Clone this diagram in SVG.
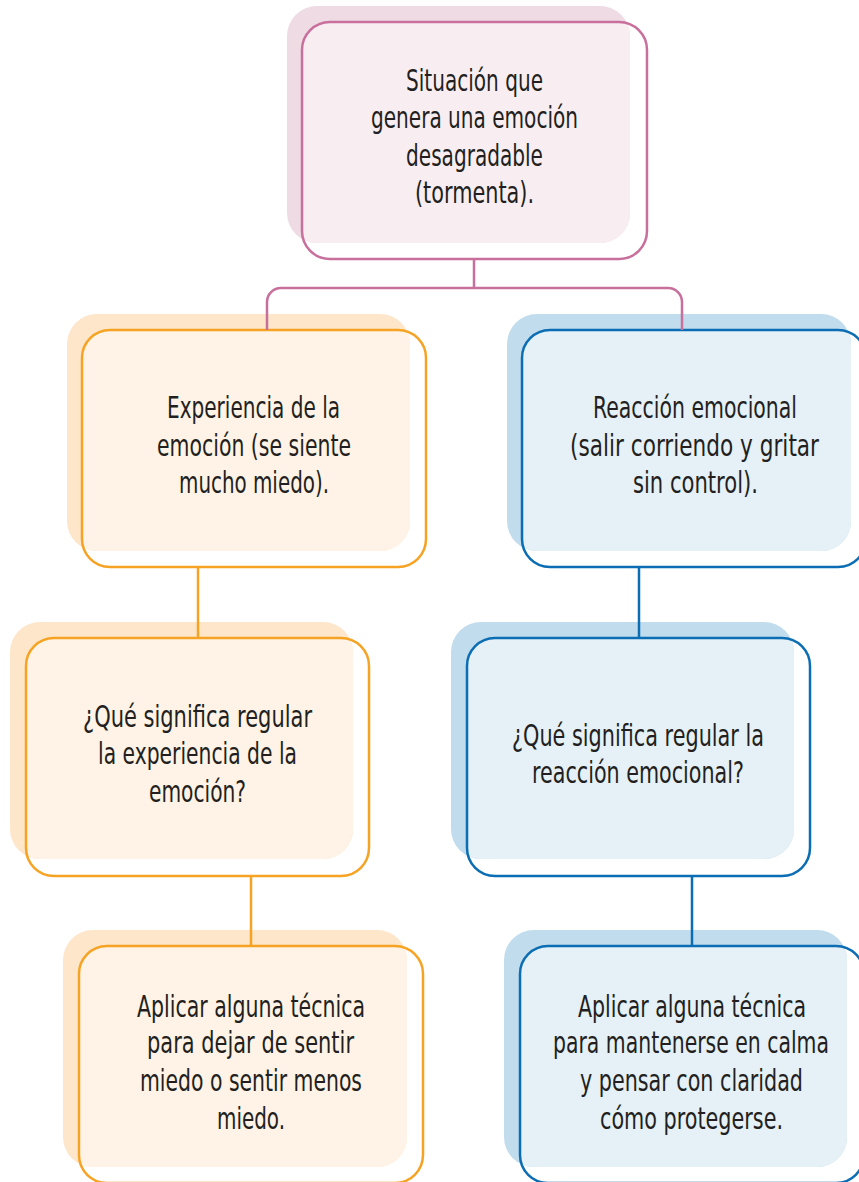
<svg xmlns="http://www.w3.org/2000/svg" width="859" height="1182" viewBox="0 0 859 1182">
<style>
.t{font-family:"DejaVu Sans Condensed","DejaVu Sans","Liberation Sans",sans-serif;font-stretch:condensed;font-size:30px;fill:#231f20;text-anchor:middle}
.ol{fill:none;stroke-width:2.5}
.pk-b{fill:#efdbe4}.pk-l{fill:#f8eef2}.pk-s{stroke:#c86f9c}
.or-b{fill:#fde6c9}.or-l{fill:#fef3e6}.or-s{stroke:#f6a324}
.bl-b{fill:#c1dcec}.bl-l{fill:#e5f0f7}.bl-s{stroke:#0b6db3}
.cn{fill:none;stroke-width:2.5}
</style>
<defs>
<clipPath id="k0"><rect x="302" y="22" width="345" height="237" rx="28"/></clipPath>
<clipPath id="k1"><rect x="82" y="330" width="344" height="237" rx="28"/></clipPath>
<clipPath id="k2"><rect x="522" y="330" width="344" height="237" rx="28"/></clipPath>
<clipPath id="k3"><rect x="26" y="638" width="343" height="238" rx="28"/></clipPath>
<clipPath id="k4"><rect x="467" y="638" width="343" height="238" rx="28"/></clipPath>
<clipPath id="k5"><rect x="79" y="946" width="344" height="237" rx="28"/></clipPath>
<clipPath id="k6"><rect x="520" y="946" width="344" height="237" rx="28"/></clipPath>
</defs>
<rect width="859" height="1182" fill="#ffffff"/>

<g id="n-situacion">
<rect class="pk-b" x="287" y="6" width="343" height="237" rx="30"/>
<rect class="pk-l" x="287" y="6" width="343" height="237" rx="30" clip-path="url(#k0)"/>
<rect class="ol pk-s" x="302" y="22" width="345" height="237" rx="28"/>
<text class="t" transform="matrix(0.78 0 0 1 474.5 0)" x="0" y="91" textLength="175.6" lengthAdjust="spacingAndGlyphs">Situación que</text>
<text class="t" transform="matrix(0.78 0 0 1 474.5 0)" x="0" y="128" textLength="265.4" lengthAdjust="spacingAndGlyphs">genera una emoción</text>
<text class="t" transform="matrix(0.78 0 0 1 474.5 0)" x="0" y="166" textLength="175.6" lengthAdjust="spacingAndGlyphs">desagradable</text>
<text class="t" transform="matrix(0.78 0 0 1 474.5 0)" x="0" y="203" textLength="152.6" lengthAdjust="spacingAndGlyphs">(tormenta).</text>
</g>

<g id="n-experiencia">
<rect class="or-b" x="67" y="314" width="343" height="237" rx="30"/>
<rect class="or-l" x="67" y="314" width="343" height="237" rx="30" clip-path="url(#k1)"/>
<rect class="ol or-s" x="82" y="330" width="344" height="237" rx="28"/>
<text class="t" transform="matrix(0.78 0 0 1 253.5 0)" x="0" y="418" textLength="221.8" lengthAdjust="spacingAndGlyphs">Experiencia de la</text>
<text class="t" transform="matrix(0.78 0 0 1 254 0)" x="0" y="456" textLength="248.7" lengthAdjust="spacingAndGlyphs">emoción (se siente</text>
<text class="t" transform="matrix(0.78 0 0 1 254 0)" x="0" y="493" textLength="192.3" lengthAdjust="spacingAndGlyphs">mucho miedo).</text>
</g>

<g id="n-reaccion">
<rect class="bl-b" x="507" y="314" width="344" height="237" rx="30"/>
<rect class="bl-l" x="507" y="314" width="344" height="237" rx="30" clip-path="url(#k2)"/>
<rect class="ol bl-s" x="522" y="330" width="344" height="237" rx="28"/>
<text class="t" transform="matrix(0.78 0 0 1 695 0)" x="0" y="418" textLength="261.5" lengthAdjust="spacingAndGlyphs">Reacción emocional</text>
<text class="t" transform="matrix(0.78 0 0 1 694.5 0)" x="0" y="456" textLength="319.2" lengthAdjust="spacingAndGlyphs">(salir corriendo y gritar</text>
<text class="t" transform="matrix(0.78 0 0 1 695.5 0)" x="0" y="493" textLength="160.3" lengthAdjust="spacingAndGlyphs">sin control).</text>
</g>

<g id="n-regular-experiencia">
<rect class="or-b" x="10" y="622" width="343" height="237" rx="30"/>
<rect class="or-l" x="10" y="622" width="343" height="237" rx="30" clip-path="url(#k3)"/>
<rect class="ol or-s" x="26" y="638" width="343" height="238" rx="28"/>
<text class="t" transform="matrix(0.78 0 0 1 197.5 0)" x="0" y="727" textLength="293.6" lengthAdjust="spacingAndGlyphs">¿Qué significa regular</text>
<text class="t" transform="matrix(0.78 0 0 1 197.5 0)" x="0" y="764" textLength="255.1" lengthAdjust="spacingAndGlyphs">la experiencia de la</text>
<text class="t" transform="matrix(0.78 0 0 1 197.5 0)" x="0" y="802" textLength="124.4" lengthAdjust="spacingAndGlyphs">emoción?</text>
</g>

<g id="n-regular-reaccion">
<rect class="bl-b" x="451" y="622" width="343" height="237" rx="30"/>
<rect class="bl-l" x="451" y="622" width="343" height="237" rx="30" clip-path="url(#k4)"/>
<rect class="ol bl-s" x="467" y="638" width="343" height="238" rx="28"/>
<text class="t" transform="matrix(0.78 0 0 1 638 0)" x="0" y="746" textLength="323.1" lengthAdjust="spacingAndGlyphs">¿Qué significa regular la</text>
<text class="t" transform="matrix(0.78 0 0 1 638 0)" x="0" y="783" textLength="271.8" lengthAdjust="spacingAndGlyphs">reacción emocional?</text>
</g>

<g id="n-tecnica-miedo">
<rect class="or-b" x="63" y="930" width="344" height="237" rx="30"/>
<rect class="or-l" x="63" y="930" width="344" height="237" rx="30" clip-path="url(#k5)"/>
<rect class="ol or-s" x="79" y="946" width="344" height="237" rx="28"/>
<text class="t" transform="matrix(0.78 0 0 1 251 0)" x="0" y="1017" textLength="292.3" lengthAdjust="spacingAndGlyphs">Aplicar alguna técnica</text>
<text class="t" transform="matrix(0.78 0 0 1 250.5 0)" x="0" y="1053" textLength="265.4" lengthAdjust="spacingAndGlyphs">para dejar de sentir</text>
<text class="t" transform="matrix(0.78 0 0 1 251 0)" x="0" y="1091" textLength="284.6" lengthAdjust="spacingAndGlyphs">miedo o sentir menos</text>
<text class="t" transform="matrix(0.78 0 0 1 251 0)" x="0" y="1129" textLength="87.2" lengthAdjust="spacingAndGlyphs">miedo.</text>
</g>

<g id="n-tecnica-calma">
<rect class="bl-b" x="504" y="930" width="343" height="237" rx="30"/>
<rect class="bl-l" x="504" y="930" width="343" height="237" rx="30" clip-path="url(#k6)"/>
<rect class="ol bl-s" x="520" y="946" width="344" height="237" rx="28"/>
<text class="t" transform="matrix(0.78 0 0 1 692 0)" x="0" y="1017" textLength="292.3" lengthAdjust="spacingAndGlyphs">Aplicar alguna técnica</text>
<text class="t" transform="matrix(0.78 0 0 1 691 0)" x="0" y="1053" textLength="353.8" lengthAdjust="spacingAndGlyphs">para mantenerse en calma</text>
<text class="t" transform="matrix(0.78 0 0 1 691.5 0)" x="0" y="1091" textLength="285.9" lengthAdjust="spacingAndGlyphs">y pensar con claridad</text>
<text class="t" transform="matrix(0.78 0 0 1 691.5 0)" x="0" y="1129" textLength="234.6" lengthAdjust="spacingAndGlyphs">cómo protegerse.</text>
</g>

<g id="connectors">
<path class="cn pk-s" d="M474,259 V288"/>
<path class="cn pk-s" d="M267,330 V302 A14,14 0 0 1 281,288 H668 A14,14 0 0 1 682,302 V330"/>
<path class="cn or-s" d="M198,567 V638"/>
<path class="cn or-s" d="M251,876 V946"/>
<path class="cn bl-s" d="M639,567 V638"/>
<path class="cn bl-s" d="M692,876 V946"/>
</g>
</svg>
